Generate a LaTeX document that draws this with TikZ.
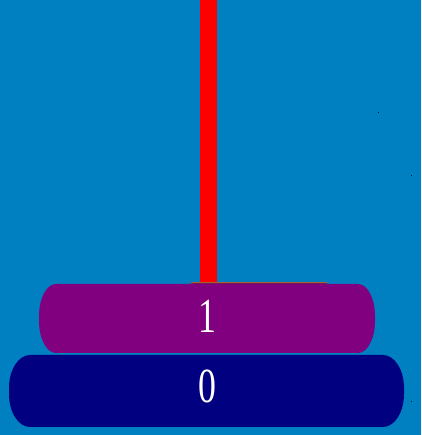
\documentclass[tikz,border=0pt]{standalone}
\usepackage{fontspec}
\setmainfont{Liberation Serif}
\definecolor{bgblue}{RGB}{0,128,192}
\definecolor{discpurple}{RGB}{128,0,128}
\definecolor{discnavy}{RGB}{0,0,128}
\definecolor{polered}{RGB}{255,0,0}
\definecolor{baseltop}{RGB}{170,95,45}
\definecolor{baselbot}{RGB}{115,30,80}
\tikzset{
  disclabel/.style={text=white,font=\fontsize{49}{49}\selectfont,xscale=0.73,inner sep=0pt,anchor=center},
  speck/.style={fill=black!85!bgblue}
}
\newcommand{\discpath}[7]{% fill, x1, x2, ybot, ytop, rx, ry
  \fill[#1] ({#2+#6},#5) -- ({#3-#6},#5)
    arc[start angle=90,end angle=0,x radius=#6,y radius=#7]
    -- (#3,{#4+#7})
    arc[start angle=0,end angle=-90,x radius=#6,y radius=#7]
    -- ({#2+#6},#4)
    arc[start angle=270,end angle=180,x radius=#6,y radius=#7]
    -- (#2,{#5-#7})
    arc[start angle=180,end angle=90,x radius=#6,y radius=#7]
    -- cycle;}
\begin{document}
\begin{tikzpicture}[x=1pt,y=1pt]
\fill[bgblue] (0,0) rectangle (421,435);
\useasboundingbox (0,0) rectangle (421,435);
% pole
\fill[polered] (200,153) rectangle (217,435);
% thin base line of the peg
\fill[baseltop] (191,152) rectangle (327,153.2);
\fill[baselbot] (191,151) rectangle (327,152);
% discs
\discpath{discpurple}{39}{375}{82}{151}{17}{32}
\discpath{discnavy}{9}{404}{8}{80}{21}{33}
% labels
\node[disclabel] (one) at (207,119) {1};
\node[disclabel] (zero) at (207,49) {0};
% specks
\fill[speck] (377.5,321.5) rectangle (379,323);
\fill[speck] (410.5,258.5) rectangle (412,260);
\fill[speck] (410.5,32.5) rectangle (412,34);
\end{tikzpicture}
\end{document}
